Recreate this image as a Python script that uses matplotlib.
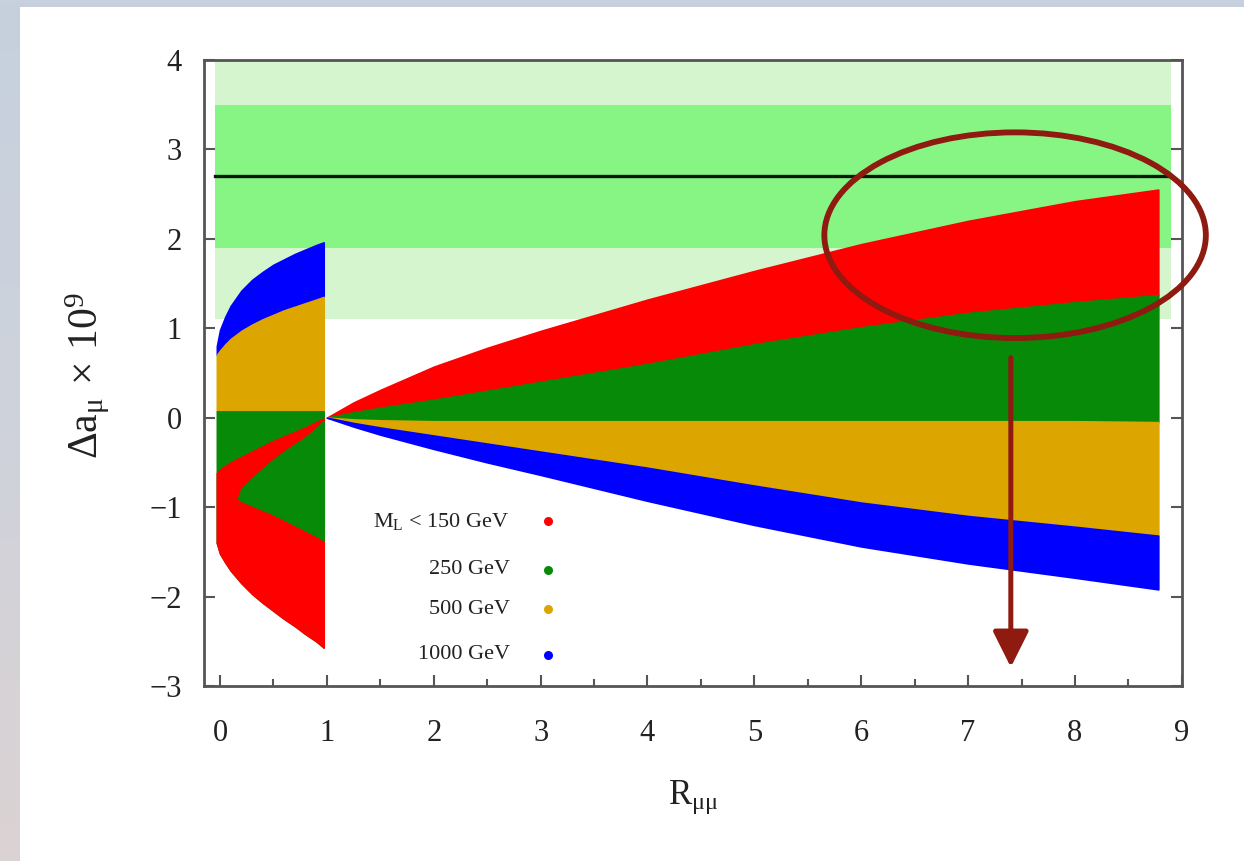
import numpy as np
import matplotlib.pyplot as plt
from matplotlib.colors import LinearSegmentedColormap
from matplotlib.patches import Ellipse, FancyArrowPatch, Rectangle
from matplotlib.ticker import MultipleLocator

plt.rcParams['font.family'] = ['Liberation Serif', 'DejaVu Serif']
plt.rcParams['mathtext.fontset'] = 'custom'
plt.rcParams['mathtext.rm'] = 'Liberation Serif'
plt.rcParams['mathtext.it'] = 'Liberation Serif'
plt.rcParams['mathtext.bf'] = 'Liberation Serif:bold'

# ---------------------------------------------------------------------
# Scan envelopes: R_mumu vs Delta a_mu (x 10^9)
# ---------------------------------------------------------------------
# R < 1 branch
r_lo = [-0.03, 0.0, 0.05, 0.1, 0.2, 0.3, 0.4, 0.5, 0.6, 0.7, 0.8, 0.9, 0.97]
blue_top_lo = [0.80, 0.98, 1.13, 1.25, 1.42, 1.54, 1.63, 1.71, 1.77, 1.83, 1.88, 1.93, 1.96]
orange_top_lo = [0.70, 0.75, 0.82, 0.88, 0.97, 1.04, 1.10, 1.15, 1.20, 1.24, 1.28, 1.32, 1.35]
green_top_lo = [0.07] * 13
red_top_lo = [-0.62, -0.58, -0.54, -0.50, -0.44, -0.38, -0.32, -0.26, -0.21, -0.16, -0.11, -0.05, -0.01]
red_bot_lo = [-1.40, -1.52, -1.62, -1.71, -1.85, -1.97, -2.07, -2.16, -2.25, -2.33, -2.42, -2.50, -2.57]

# green pocket inside the red arm (250 GeV points not covered by red)
r_wedge = [0.17, 0.2, 0.3, 0.4, 0.5, 0.6, 0.7, 0.8, 0.9, 0.97]
wedge_top = [-0.90, -0.80, -0.68, -0.57, -0.47, -0.38, -0.30, -0.22, -0.12, -0.04]
wedge_bot = [-0.90, -0.93, -0.98, -1.03, -1.08, -1.14, -1.20, -1.26, -1.32, -1.37]

# R > 1 branch
r_hi = [1.0, 1.25, 1.5, 2.0, 2.5, 3.0, 4.0, 5.0, 6.0, 7.0, 8.0, 8.78]
red_top_hi = [0.0, 0.17, 0.31, 0.57, 0.78, 0.97, 1.32, 1.64, 1.94, 2.20, 2.42, 2.55]
green_top_hi = [0.0, 0.06, 0.11, 0.20, 0.30, 0.40, 0.60, 0.82, 1.01, 1.17, 1.29, 1.37]
green_bot_hi = [0.0, -0.02, -0.03, -0.04, -0.04, -0.04, -0.04, -0.04, -0.04, -0.04, -0.04, -0.05]
orange_bot_hi = [0.0, -0.06, -0.11, -0.20, -0.29, -0.38, -0.56, -0.76, -0.95, -1.10, -1.22, -1.32]
blue_bot_hi = [0.0, -0.10, -0.19, -0.35, -0.50, -0.64, -0.93, -1.20, -1.44, -1.63, -1.79, -1.92]

# measured g-2 discrepancy: central value, 1 sigma and 2 sigma widths
amu_central = 2.7
amu_1sigma = 0.8
amu_2sigma = 1.6
band_x = [-0.05, 8.9]

mass_labels = [r'M$_{\rm L}$ < 150 GeV', '250 GeV', '500 GeV', '1000 GeV']
mass_colors = ['#ff0000', '#078a07', '#dca500', '#0000ff']
RED, GREEN, ORANGE, BLUE = mass_colors
MARK = '#8e1a10'

fig = plt.figure(figsize=(12.44, 8.61), dpi=100)

# slide background with white panel
bg = fig.add_axes([0, 0, 1, 1])
bg.axis('off')
cmap = LinearSegmentedColormap.from_list('slide', ['#c6d0de', '#cfd3db', '#dbd2d3'])
bg.imshow(np.linspace(0, 1, 256).reshape(-1, 1), cmap=cmap, aspect='auto',
          extent=[0, 1, 0, 1], transform=bg.transAxes)
bg.add_patch(Rectangle((20 / 1244, 0), 1, 1 - 7 / 861, transform=bg.transAxes,
                       facecolor='white', edgecolor='none'))
bg.set_xlim(0, 1)
bg.set_ylim(0, 1)

ax = fig.add_axes([0.164, 0.2033, 0.786, 0.7271])
ax.set_facecolor('white')

# experimental bands
ax.fill_between(band_x, amu_central - amu_2sigma, amu_central + amu_2sigma,
                color='#d5f5cf', lw=0, zorder=1)
ax.fill_between(band_x, amu_central - amu_1sigma, amu_central + amu_1sigma,
                color='#86f584', lw=0, zorder=1)
ax.plot(band_x, [amu_central] * 2, color='#0a1a0a', lw=2.4, zorder=2)

kw = dict(lw=1.2, zorder=3)
# R < 1
ax.fill_between(r_lo, orange_top_lo, blue_top_lo, color=BLUE, ec=BLUE, **kw)
ax.fill_between(r_lo, green_top_lo, orange_top_lo, color=ORANGE, ec=ORANGE, **kw)
ax.fill_between(r_lo, red_bot_lo, green_top_lo, color=GREEN, ec=GREEN, **kw)
ax.fill_between(r_lo, red_bot_lo, red_top_lo, color=RED, ec=RED, **kw)
ax.fill_between(r_wedge, wedge_bot, wedge_top, color=GREEN, ec=GREEN, **kw)
# R > 1
ax.fill_between(r_hi, green_top_hi, red_top_hi, color=RED, ec=RED, **kw)
ax.fill_between(r_hi, green_bot_hi, green_top_hi, color=GREEN, ec=GREEN, **kw)
ax.fill_between(r_hi, orange_bot_hi, green_bot_hi, color=ORANGE, ec=ORANGE, **kw)
ax.fill_between(r_hi, blue_bot_hi, orange_bot_hi, color=BLUE, ec=BLUE, **kw)

# legend: right-aligned text with a dot after it
leg_y = [-1.16, -1.70, -2.14, -2.65]
for lab, col, yy in zip(mass_labels, mass_colors, leg_y):
    ax.text(2.71, yy, lab, ha='right', va='center', fontsize=16, color='#222222', zorder=5)
    ax.plot([3.07], [yy], 'o', ms=6.5, color=col, mec='none', zorder=5)

# highlight of the region inside the 2 sigma band
ax.add_patch(Ellipse((7.44, 2.04), 3.57, 2.30, fill=False, ec=MARK, lw=4.2,
                     zorder=6, clip_on=False))
ax.add_patch(FancyArrowPatch((7.40, 0.67), (7.40, -2.79),
                             arrowstyle='-|>,head_length=22,head_width=11',
                             mutation_scale=1, color=MARK, lw=3.6,
                             shrinkA=0, shrinkB=0, zorder=6, clip_on=False))

ax.set_xlim(-0.15, 9)
ax.set_ylim(-3, 4)
ax.set_xticks(range(10))
ax.set_yticks(range(-3, 5))
ax.xaxis.set_minor_locator(MultipleLocator(0.5))
ax.tick_params(axis='both', which='both', direction='in', top=False, right=True,
               color='#555555', width=1.5, labelsize=22, labelcolor='#222222')
ax.tick_params(axis='x', which='major', length=8, pad=24)
ax.tick_params(axis='x', which='minor', length=5)
ax.tick_params(axis='y', which='major', length=8, pad=16)
for sp in ax.spines.values():
    sp.set_color('#555555')
    sp.set_linewidth(2)

ax.set_xlabel(r'R$_{\mu\mu}$', fontsize=25, color='#222222', labelpad=22)
ax.set_ylabel(r'$\Delta\mathrm{a}_{\mu}\,\times\,10^{9}$', fontsize=30, color='#222222')
ax.yaxis.set_label_coords(-0.094, 0.495)

fig.savefig('out.png', dpi=100)
